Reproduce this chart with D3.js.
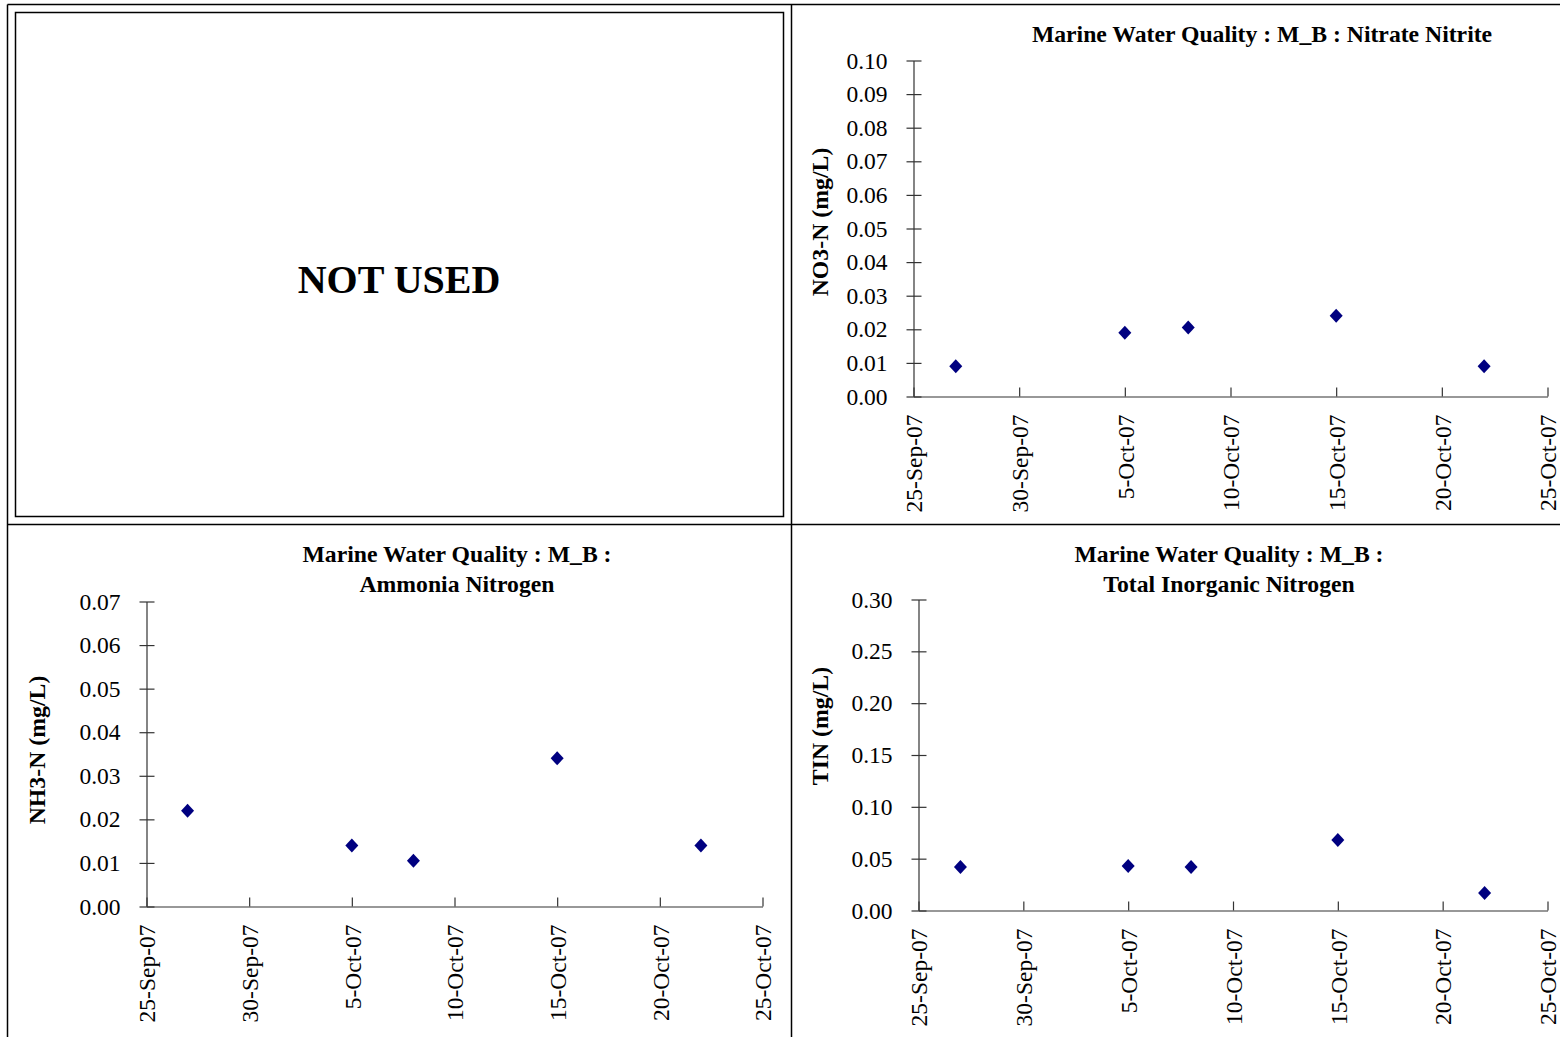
<!DOCTYPE html>
<html>
<head>
<meta charset="utf-8">
<script src="https://cdn.jsdelivr.net/npm/d3@7"></script>
<style>
  body { margin: 0; background: #fff; }
  text { font-family: "Liberation Serif", "Times New Roman", serif; fill: #000; }
</style>
</head>
<body>
<div id="chart"></div>
<script>
// sampling dates (same for every panel)
var dates = ["2007-09-27", "2007-10-05", "2007-10-08", "2007-10-15", "2007-10-22"];
// measured values (mg/L)
var no3Values = [0.009, 0.019, 0.0205, 0.024, 0.009];
var nh3Values = [0.022, 0.014, 0.0105, 0.034, 0.014];
var tinValues = [0.042, 0.043, 0.042, 0.068, 0.017];
// axis ticks
var xTicks = ["2007-09-25", "2007-09-30", "2007-10-05", "2007-10-10", "2007-10-15", "2007-10-20", "2007-10-25"];
var no3Ticks = [0, 0.01, 0.02, 0.03, 0.04, 0.05, 0.06, 0.07, 0.08, 0.09, 0.10];
var nh3Ticks = [0, 0.01, 0.02, 0.03, 0.04, 0.05, 0.06, 0.07];
var tinTicks = [0, 0.05, 0.10, 0.15, 0.20, 0.25, 0.30];

var parse = d3.timeParse("%Y-%m-%d");
var fmt = d3.timeFormat("%-d-%b-%y");

var svg = d3.select("#chart").append("svg")
  .attr("width", 1560)
  .attr("height", 1037);

// page frame
svg.append("line").attr("x1", 7.5).attr("y1", 4.5).attr("x2", 1560).attr("y2", 4.5).attr("stroke", "#000").attr("stroke-width", 1.5);
svg.append("line").attr("x1", 7.5).attr("y1", 4.5).attr("x2", 7.5).attr("y2", 1037).attr("stroke", "#000").attr("stroke-width", 1.5);
svg.append("line").attr("x1", 791.5).attr("y1", 4.5).attr("x2", 791.5).attr("y2", 1037).attr("stroke", "#000").attr("stroke-width", 1.5);
svg.append("line").attr("x1", 7.5).attr("y1", 524.5).attr("x2", 1560).attr("y2", 524.5).attr("stroke", "#000").attr("stroke-width", 1.5);
// the empty panel
svg.append("rect").attr("x", 15.5).attr("y", 12.5).attr("width", 768).attr("height", 504)
  .attr("fill", "none").attr("stroke", "#000").attr("stroke-width", 1.5);
svg.append("text").attr("x", 399).attr("y", 293)
  .attr("text-anchor", "middle").attr("font-weight", "bold").attr("font-size", 40)
  .text("NOT USED");

function drawPanel(opt) {
  var g = svg.append("g");
  var x = d3.scaleTime()
    .domain([parse(xTicks[0]), parse(xTicks[xTicks.length - 1])])
    .range(opt.xRange);
  var y = d3.scaleLinear()
    .domain([opt.yTicks[0], opt.yTicks[opt.yTicks.length - 1]])
    .range(opt.yRange);

  // y axis, ticks cross the line
  var ya = g.append("g")
    .attr("transform", "translate(" + opt.xRange[0] + ",0)")
    .call(d3.axisLeft(y).tickValues(opt.yTicks).tickFormat(d3.format(".2f"))
      .tickSizeInner(7).tickSizeOuter(0).tickPadding(19));
  ya.selectAll(".tick line").attr("x1", 8);
  ya.selectAll("text").attr("font-size", 23.5).attr("font-family", "Liberation Serif");

  // x axis, ticks inside, labels turned up
  var xa = g.append("g")
    .attr("transform", "translate(0," + opt.yRange[0] + ")")
    .call(d3.axisBottom(x).tickValues(xTicks.map(parse)).tickFormat(fmt)
      .tickSizeInner(-9).tickSizeOuter(0));
  xa.selectAll("text")
    .attr("transform", "rotate(-90)")
    .attr("text-anchor", "end")
    .attr("x", -18).attr("y", 0).attr("dy", "0.35em")
    .attr("font-size", 23.5).attr("font-family", "Liberation Serif");

  g.selectAll(".domain, .tick line").attr("stroke", "#333").attr("stroke-width", 1.2);

  // title
  var t = g.append("text")
    .attr("text-anchor", "middle")
    .attr("font-weight", "bold")
    .attr("font-size", 23.7);
  opt.title.forEach(function(line, i) {
    t.append("tspan").attr("x", opt.titleX).attr("y", opt.titleY + i * 30).text(line);
  });

  // y axis title
  g.append("text")
    .attr("transform", "translate(" + opt.labelX + "," + opt.labelY + ") rotate(-90)")
    .attr("text-anchor", "middle")
    .attr("dy", "0.35em")
    .attr("font-weight", "bold")
    .attr("font-size", 23.8)
    .text(opt.label);

  // points
  g.selectAll("path.pt")
    .data(opt.values)
    .enter()
    .append("path")
      .attr("class", "pt")
      .attr("d", "M0,-7L6.5,0L0,7L-6.5,0Z")
      .attr("transform", function(d, i) { return "translate(" + x(parse(dates[i])) + "," + y(d) + ")"; })
      .attr("fill", "#000080");
}

drawPanel({
  values: no3Values, yTicks: no3Ticks,
  xRange: [913.5, 1547.5], yRange: [396.5, 60.5],
  title: ["Marine Water Quality : M_B : Nitrate Nitrite"], titleX: 1262, titleY: 42,
  label: "NO3-N (mg/L)", labelX: 820, labelY: 222
});
drawPanel({
  values: nh3Values, yTicks: nh3Ticks,
  xRange: [146.5, 762.5], yRange: [906.5, 601.5],
  title: ["Marine Water Quality : M_B :", "Ammonia Nitrogen"], titleX: 457, titleY: 562,
  label: "NH3-N (mg/L)", labelX: 37, labelY: 750
});
drawPanel({
  values: tinValues, yTicks: tinTicks,
  xRange: [918.5, 1547.5], yRange: [910.5, 599.5],
  title: ["Marine Water Quality : M_B :", "Total Inorganic Nitrogen"], titleX: 1229, titleY: 562,
  label: "TIN (mg/L)", labelX: 820, labelY: 726
});
</script>
</body>
</html>
